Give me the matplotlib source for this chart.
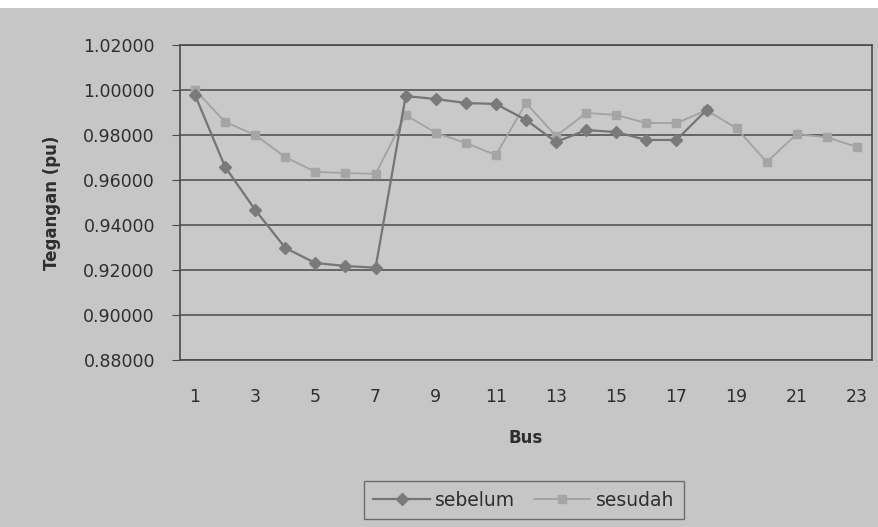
import matplotlib
matplotlib.use("Agg")
import matplotlib.pyplot as plt
import numpy as np

bus = list(range(1, 24))
sebelum = [0.9978, 0.9658, 0.9467, 0.9298, 0.9231, 0.9218, 0.9210, 0.9973, 0.9960,
           0.9942, 0.9938, 0.9867, 0.9769, 0.9822, 0.9813, 0.9778, 0.9778, 0.9911]
sesudah = [1.0000, 0.9858, 0.9800, 0.9702, 0.9636, 0.9631, 0.9627, 0.9889, 0.9810,
           0.9764, 0.9711, 0.9942, 0.9795, 0.9898, 0.9889, 0.9853, 0.9853, 0.9910,
           0.9830, 0.9680, 0.9804, 0.9790, 0.9747]
yticks = [0.88, 0.90, 0.92, 0.94, 0.96, 0.98, 1.00, 1.02]
xtick_labels = [str(b) for b in bus[::2]]

bg = "#c6c6c6"
txt = "#2e2e2e"
fig = plt.figure(figsize=(8.79, 5.27), dpi=100, facecolor=bg)
# white strip at top of scan
fig.patches.append(plt.Rectangle((0, 1 - 8 / 527), 1, 8 / 527, transform=fig.transFigure,
                                 facecolor="white", edgecolor="none", zorder=-1))

ax = fig.add_axes([180 / 879, (527 - 360) / 527, (872 - 180) / 879, 315 / 527])
ax.set_facecolor("#c9c9c9")

ax.plot(bus[:len(sebelum)], sebelum, color="#757575", lw=1.6, marker="D", ms=6,
        mfc="#7a7a7a", mec="#7a7a7a", label="sebelum", zorder=3)
ax.plot(bus[:len(sesudah)], sesudah, color="#a2a2a2", lw=1.3, marker="s", ms=6,
        mfc="#a5a5a5", mec="#a5a5a5", label="sesudah", zorder=2)

ax.set_xlim(0.5, 23.5)
ax.set_ylim(0.88, 1.02)
ax.set_yticks(yticks)
ax.set_yticklabels([f"{v:.5f}" for v in yticks], fontsize=12.5, color=txt,
                   family="DejaVu Sans")
ax.set_xticks(bus[::2])
ax.set_xticklabels(xtick_labels, fontsize=12.5, color=txt, family="DejaVu Sans")
ax.grid(axis="y", color="#4a4a4a", lw=1.1)
ax.set_axisbelow(True)
for s in ax.spines.values():
    s.set_color("#4a4a4a")
    s.set_linewidth(1.2)
ax.tick_params(axis="y", length=6, color="#4a4a4a", pad=12)
ax.tick_params(axis="x", length=0, pad=20)

ax.set_ylabel("Tegangan (pu)", fontsize=12, fontweight="bold", color=txt,
              family="DejaVu Sans", labelpad=16)
ax.set_xlabel("Bus", fontsize=12, fontweight="bold", color=txt,
              family="DejaVu Sans", labelpad=17)

leg = fig.legend(loc="center", bbox_to_anchor=(524 / 879, (527 - 500) / 527), ncol=2,
                 frameon=True, fancybox=False, handlelength=3.0,
                 columnspacing=1.0, handletextpad=0.3, borderpad=0.5,
                 prop={"family": "DejaVu Sans", "size": 13.5})
leg.get_frame().set_facecolor(bg)
leg.get_frame().set_edgecolor("#555555")
for t in leg.get_texts():
    t.set_color(txt)

fig.savefig("out.png", dpi=100, facecolor=bg)
